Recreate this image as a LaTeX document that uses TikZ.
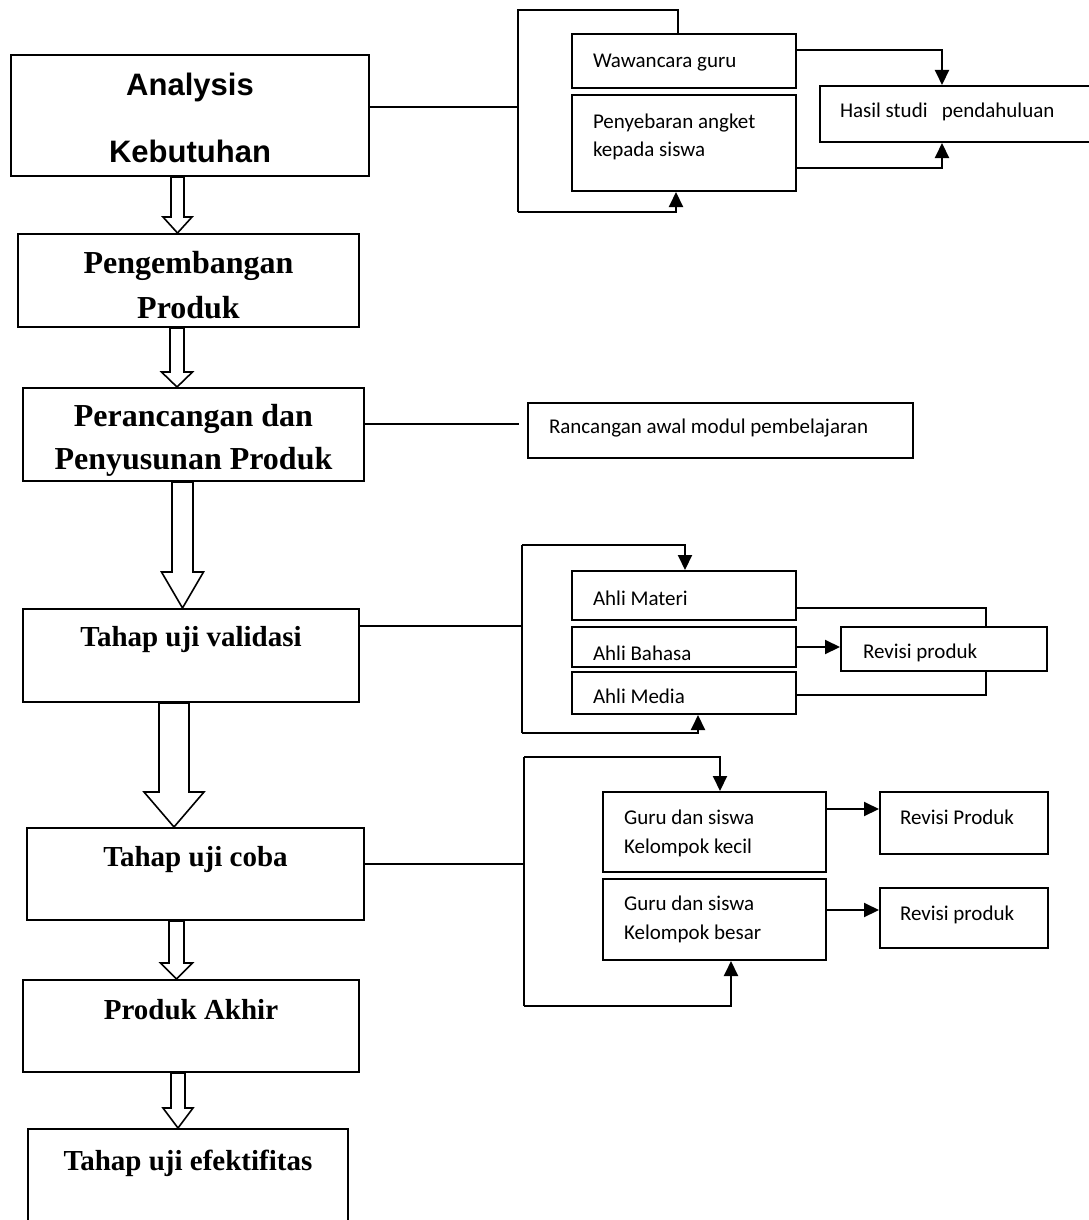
\documentclass[tikz,border=0pt]{standalone}
\usepackage{fontspec}
\setmainfont{Liberation Serif}
\newfontfamily\arialfont{Liberation Sans}
\newfontfamily\calibrifont{Carlito}
\usetikzlibrary{arrows.meta,calc}
\tikzset{
  stagebox/.style={draw, line width=1pt, anchor=north west, inner sep=0pt, align=flush center, font=\bfseries\fontsize{14.5}{18}\selectfont},
  notebox/.style={draw, line width=1pt, anchor=north west, inner ysep=0pt, align=flush left, font=\calibrifont\fontsize{10.5}{14}\selectfont},
  wire/.style={line width=1pt},
  thinwire/.style={line width=0.75pt},
  wirearrow/.style={line width=1pt, -{Triangle[length=7.5pt,width=7pt]}},
  hollow/.style={line width=0.8pt, line join=miter},
}
% from, to, centre x, shaft half width, head half width, head length
\newcommand{\blockarrow}[6]{%
  \draw[hollow] ({#3-#4},0 |- #1.south) -- ($({#3-#4},0 |- #2.north)+(0,-#6)$)
    -- ($({#3-#5},0 |- #2.north)+(0,-#6)$) -- (#3,0 |- #2.north)
    -- ($({#3+#5},0 |- #2.north)+(0,-#6)$) -- ($({#3+#4},0 |- #2.north)+(0,-#6)$)
    -- ({#3+#4},0 |- #1.south) -- cycle;}
\begin{document}
\begin{tikzpicture}[x=0.5pt,y=-0.5pt]
  \useasboundingbox (0,0) rectangle (1088,1220);
  % left column
  \node[stagebox, text width=179pt, text height=20.5pt, text depth=40pt, font=\arialfont\bfseries\fontsize{15.5}{33.5}\selectfont] (analysis) at (10,54) {Analysis\\Kebutuhan};
  \node[stagebox, text width=170.5pt, text height=19.5pt, text depth=27pt, font=\bfseries\fontsize{16}{22.5}\selectfont] (pengembangan) at (17,233) {Pengembangan\\Produk};
  \node[stagebox, text width=170.5pt, text height=19pt, text depth=27.5pt, font=\bfseries\fontsize{16}{21.5}\selectfont] (perancangan) at (22,387) {Perancangan dan\\Penyusunan Produk};
  \node[stagebox, text width=168pt, text height=18.5pt, text depth=28pt] (validasi) at (22,608) {Tahap uji validasi};
  \node[stagebox, text width=168.5pt, text height=19pt, text depth=27pt] (ujicoba) at (26,827) {Tahap uji coba};
  \node[stagebox, text width=168pt, text height=19.5pt, text depth=26.5pt] (produkakhir) at (22,979) {Produk Akhir};
  \node[stagebox, text width=160pt, text height=20.5pt, text depth=45pt] (efektifitas) at (27,1128) {Tahap uji efektifitas};

  \blockarrow{analysis}{pengembangan}{177.5}{6.5}{14.5}{16}
  \blockarrow{pengembangan}{perancangan}{177}{7}{15.5}{15}
  \blockarrow{perancangan}{validasi}{182.5}{10.5}{21}{36}
  \blockarrow{validasi}{ujicoba}{174}{15}{30}{35}
  \blockarrow{ujicoba}{produkakhir}{176.5}{7.5}{16}{16}
  \blockarrow{produkakhir}{efektifitas}{178}{7}{15}{20}

  % studi pendahuluan
  \node[notebox, text width=91pt, inner xsep=10.5pt, text height=17pt, text depth=10pt] (wawancara) at (571,33) {Wawancara guru};
  \node[notebox, text width=91pt, inner xsep=10.5pt, text height=16.5pt, text depth=31.5pt] (penyebaran) at (571,94) {Penyebaran angket\\kepada siswa};
  \node[notebox, text width=120.5pt, inner xsep=10pt, text height=16pt, text depth=12pt] (hasil) at (819,85) {Hasil studi~~~pendahuluan};
  \coordinate (brAtop) at (518,10);
  \coordinate (brAmid) at (518,107);
  \coordinate (brAbot) at (518,212);
  \draw[wire] (analysis.east |- brAmid) -- (brAmid);
  \draw[wire] (brAbot) -- (brAtop) -| (678,0 |- wawancara.north);
  \draw[wirearrow] (brAbot) -| (676,0 |- penyebaran.south);
  \draw[wirearrow] (wawancara.east |- 0,50) -| (942,0 |- hasil.north);
  \draw[wirearrow] (penyebaran.east |- 0,168) -| (942,0 |- hasil.south);

  % rancangan
  \node[notebox, text width=171.5pt, inner xsep=10.5pt, text height=15pt, text depth=12.5pt] (rancangan) at (527,402) {Rancangan awal modul pembelajaran};
  \draw[wire, shorten >=4pt] (perancangan.east |- 0,424) -- (rancangan.west |- 0,424);

  % validasi
  \node[notebox, text width=91pt, inner xsep=10.5pt, text height=17pt, text depth=7.5pt] (materi) at (571,570) {Ahli Materi};
  \node[notebox, text width=91pt, inner xsep=10.5pt, text height=16.5pt, text depth=3.5pt] (bahasa) at (571,626) {Ahli Bahasa};
  \node[notebox, text width=91pt, inner xsep=10.5pt, text height=15.5pt, text depth=5.5pt] (media) at (571,671) {Ahli Media};
  \node[notebox, text width=81pt, inner xsep=11pt, text height=15.5pt, text depth=6.5pt] (revisi1) at (840,626) {Revisi produk};
  \coordinate (brBtop) at (522,545);
  \coordinate (brBmid) at (522,626);
  \coordinate (brBbot) at (522,733);
  \draw[wire] (validasi.east |- brBmid) -- (brBmid);
  \draw[wire] (brBbot) -- (brBtop);
  \draw[wirearrow] (brBtop) -| (685,0 |- materi.north);
  \draw[wirearrow] (brBbot) -| (698,0 |- media.south);
  \draw[wirearrow] (bahasa.east) -- (revisi1.west |- bahasa.east);
  \draw[thinwire] (materi.east |- 0,608) -| (986,0 |- revisi1.north);
  \draw[thinwire] (media.east |- 0,695) -| (986,0 |- revisi1.south);

  % uji coba
  \node[notebox, text width=90.5pt, inner xsep=10.5pt, text height=16pt, text depth=24pt, font=\calibrifont\fontsize{10.5}{14.5}\selectfont] (gurukecil) at (602,791) {Guru dan siswa\\Kelompok kecil};
  \node[notebox, text width=90.5pt, inner xsep=10.5pt, text height=15.5pt, text depth=25pt, font=\calibrifont\fontsize{10.5}{14.5}\selectfont] (gurubesar) at (602,878) {Guru dan siswa\\Kelompok besar};
  \node[notebox, text width=64pt, inner xsep=10pt, text height=16pt, text depth=15pt] (revisi2) at (879,791) {Revisi Produk};
  \node[notebox, text width=64pt, inner xsep=10pt, text height=16pt, text depth=14pt] (revisi3) at (879,887) {Revisi produk};
  \coordinate (brCtop) at (524,757);
  \coordinate (brCmid) at (524,864);
  \coordinate (brCbot) at (524,1006);
  \draw[wire] (ujicoba.east |- brCmid) -- (brCmid);
  \draw[wire] (brCbot) -- (brCtop);
  \draw[wirearrow] (brCtop) -| (720,0 |- gurukecil.north);
  \draw[wirearrow] (brCbot) -| (731,0 |- gurubesar.south);
  \draw[wirearrow] (gurukecil.east |- 0,809) -- (revisi2.west |- 0,809);
  \draw[wirearrow] (gurubesar.east |- 0,910) -- (revisi3.west |- 0,910);
\end{tikzpicture}
\end{document}
